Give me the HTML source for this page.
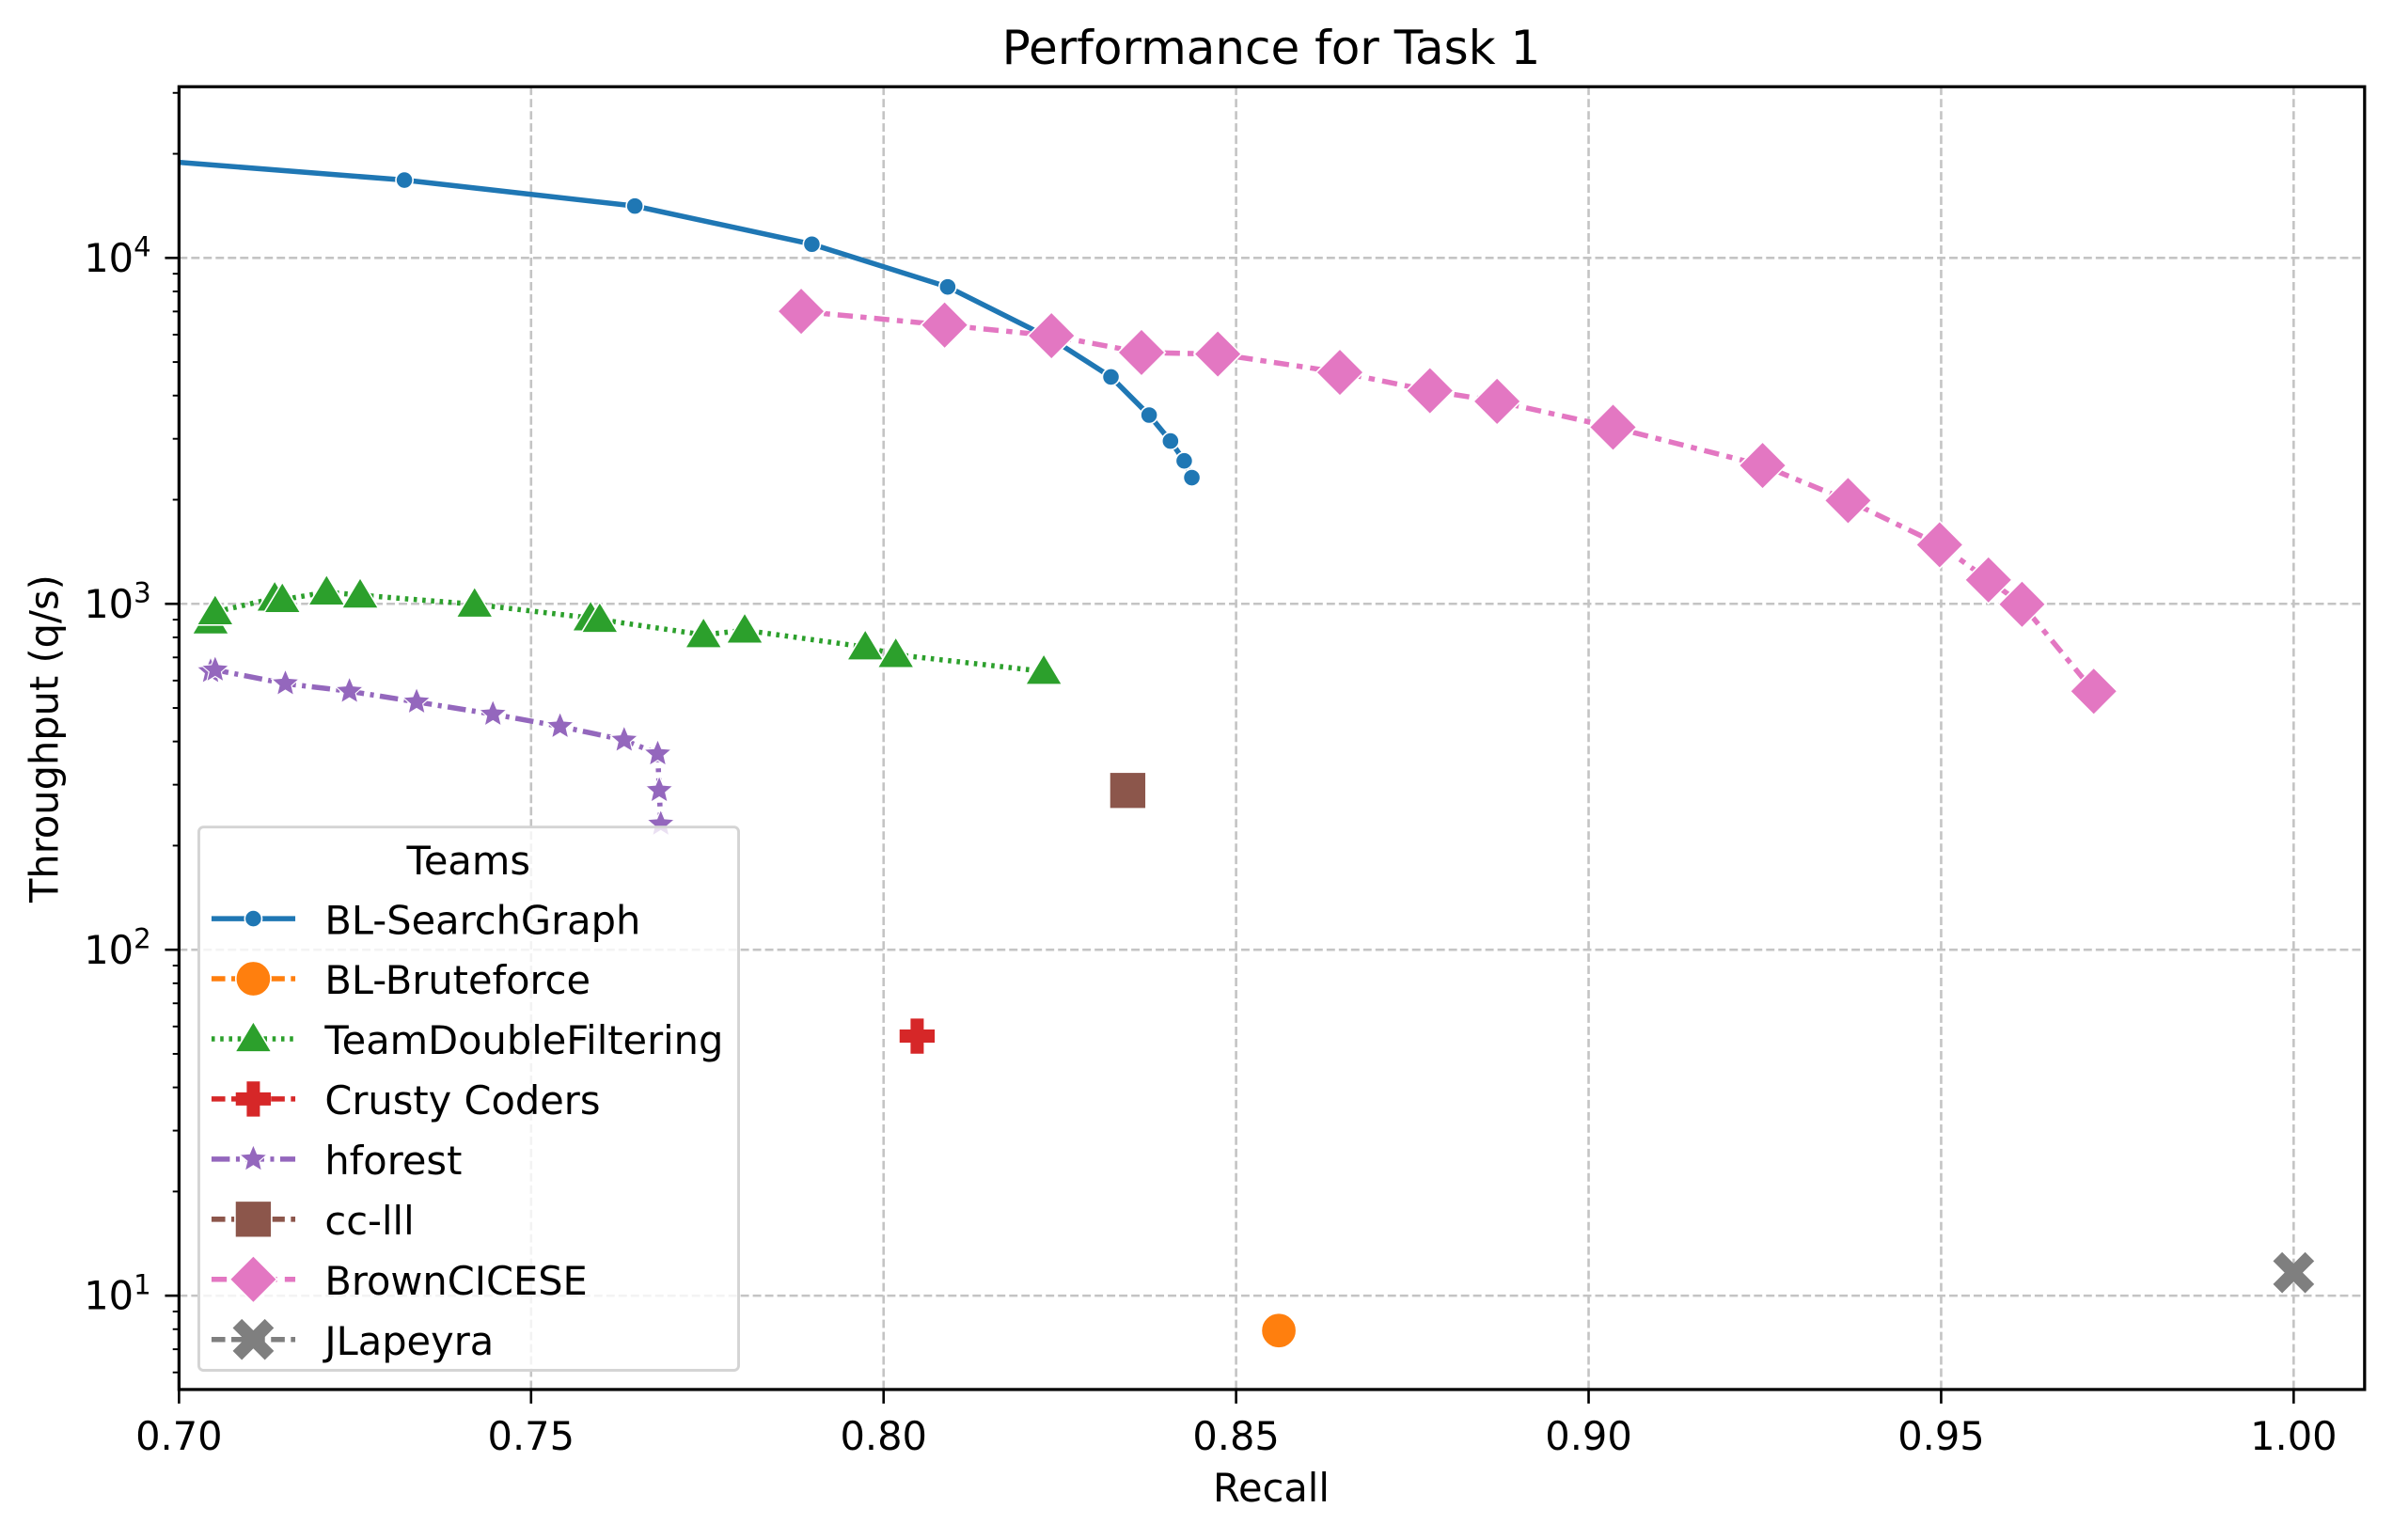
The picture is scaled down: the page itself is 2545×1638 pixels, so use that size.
<!DOCTYPE html>
<html><head><meta charset="utf-8"><style>html,body{margin:0;padding:0;background:#fff}svg{display:block}text{font-family:"DejaVu Sans","Liberation Sans",sans-serif}</style></head>
<body>
<svg id="s" width="2545" height="1638" viewBox="0 0 1568.1 1009.2" xmlns="http://www.w3.org/2000/svg">
<defs><clipPath id="c"><rect x="117.3" y="56.8" width="1432.2" height="853.8"/></clipPath></defs>
<rect width="1568.1" height="1009.2" fill="#fff"/>
<g id="grid" stroke="#c4c4c4" stroke-width="1.6" stroke-dasharray="5.5,2.5" fill="none">
<line x1="348" y1="56.8" x2="348" y2="910.6"/><line x1="579" y1="56.8" x2="579" y2="910.6"/><line x1="810" y1="56.8" x2="810" y2="910.6"/><line x1="1041" y1="56.8" x2="1041" y2="910.6"/><line x1="1272" y1="56.8" x2="1272" y2="910.6"/><line x1="1503" y1="56.8" x2="1503" y2="910.6"/>
<line x1="117.3" y1="169" x2="1549.5" y2="169"/><line x1="117.3" y1="395.7" x2="1549.5" y2="395.7"/><line x1="117.3" y1="622.4" x2="1549.5" y2="622.4"/><line x1="117.3" y1="849.1" x2="1549.5" y2="849.1"/>
</g>
<g id="series" clip-path="url(#c)" fill="none" stroke-width="3.4">
<polyline stroke="#1f77b4" points="100,105 265,118 416,135 532,160 621,188 689,222 728,247 753,272 767,289 776,302 781,313"/>
<polyline stroke="#2ca02c" stroke-dasharray="2.2,3.5" points="138,405 141,401 180,392 185,393 214,388 236,390 311,396 387,405 393,406 461,416 488,413 567,424 587,429 684,440"/>
<polyline stroke="#9467bd" stroke-dasharray="12,4,2.5,4" points="138,440 141,439 187,448 229,453 273,460 323,468 367,476 409,485 431,494 432,518 433,540"/>
<polyline stroke="#e377c2" stroke-dasharray="10,5,4,5" points="525,204 619,213 689,220 748,231 798,232 878,244 937,256 981,263 1057,280 1155,305 1211,328 1271,357 1303,380 1325,396 1372,453"/>
</g>
<g id="marks" clip-path="url(#c)"></g>
<g id="ticks" stroke="#000" stroke-width="1.6">
<line x1="117.3" y1="910.6" x2="117.3" y2="919.8"/><line x1="348" y1="910.6" x2="348" y2="919.8"/><line x1="579" y1="910.6" x2="579" y2="919.8"/><line x1="810" y1="910.6" x2="810" y2="919.8"/><line x1="1041" y1="910.6" x2="1041" y2="919.8"/><line x1="1272" y1="910.6" x2="1272" y2="919.8"/><line x1="1503" y1="910.6" x2="1503" y2="919.8"/>
<line x1="108.1" y1="169" x2="117.3" y2="169"/><line x1="108.1" y1="395.7" x2="117.3" y2="395.7"/><line x1="108.1" y1="622.4" x2="117.3" y2="622.4"/><line x1="108.1" y1="849.1" x2="117.3" y2="849.1"/>
</g>
<rect x="117.3" y="56.8" width="1432.2" height="853.8" fill="none" stroke="#000" stroke-width="2"/>
<g font-size="25.6" fill="#000" text-anchor="middle">
<text x="117.3" y="950">0.70</text><text x="348" y="950">0.75</text><text x="579" y="950">0.80</text><text x="810" y="950">0.85</text><text x="1041" y="950">0.90</text><text x="1272" y="950">0.95</text><text x="1503" y="950">1.00</text>
</g>
<g font-size="25.6" fill="#000" text-anchor="end">
<text x="99" y="178">10<tspan dy="-10" font-size="18">4</tspan></text>
<text x="99" y="404.7">10<tspan dy="-10" font-size="18">3</tspan></text>
<text x="99" y="631.4">10<tspan dy="-10" font-size="18">2</tspan></text>
<text x="99" y="858.1">10<tspan dy="-10" font-size="18">1</tspan></text>
</g>
<text x="833" y="984" font-size="25.6" text-anchor="middle">Recall</text>
<text x="0" y="0" font-size="25.6" text-anchor="middle" transform="translate(38,484) rotate(-90)">Throughput (q/s)</text>
<text x="833" y="42" font-size="30.8" text-anchor="middle">Performance for Task 1</text>
<rect x="130.3" y="542" width="353.7" height="356" rx="3" fill="#fff" fill-opacity="0.8" stroke="#d4d4d4" stroke-width="1.8"/>
<text x="307" y="573" font-size="25.6" text-anchor="middle">Teams</text>
<g id="leg"></g>
<g font-size="25.6">
<text x="212.8" y="612">BL-SearchGraph</text>
<text x="212.8" y="651.4">BL-Bruteforce</text>
<text x="212.8" y="690.8">TeamDoubleFiltering</text>
<text x="212.8" y="730.2">Crusty Coders</text>
<text x="212.8" y="769.6">hforest</text>
<text x="212.8" y="809">cc-lll</text>
<text x="212.8" y="848.4">BrownCICESE</text>
<text x="212.8" y="887.8">JLapeyra</text>
</g>
</svg>
<script>
var NS="http://www.w3.org/2000/svg";
function el(p,t,a){var e=document.createElementNS(NS,t);for(var k in a)e.setAttribute(k,a[k]);p.appendChild(e);return e;}
var tk=document.getElementById('ticks');
for(var d=0;d<=4;d++){var base=169+(4-d)*226.7;for(var k=2;k<=9;k++){var y=base-Math.log10(k)*226.7;if(y>57&&y<910)el(tk,'line',{x1:113.2,y1:y,x2:117.3,y2:y,'stroke-width':1.2});}}
var M=document.getElementById('marks');
function circ(g,x,y,r,c){el(g,'circle',{cx:x,cy:y,r:r,fill:c,stroke:'#fff','stroke-width':1});}
function tri(g,x,y,s,c){el(g,'polygon',{points:(x)+','+(y-s)+' '+(x-s*1.05)+','+(y+s*0.75)+' '+(x+s*1.05)+','+(y+s*0.75),fill:c,stroke:'#fff','stroke-width':1});}
function dia(g,x,y,s,c){el(g,'polygon',{points:x+','+(y-s)+' '+(x+s)+','+y+' '+x+','+(y+s)+' '+(x-s)+','+y,fill:c,stroke:'#fff','stroke-width':1});}
function star(g,x,y,s,c){var p=[];for(var i=0;i<10;i++){var r=i%2?s*0.45:s;var a=-Math.PI/2+i*Math.PI/5;p.push((x+r*Math.cos(a)).toFixed(2)+','+(y+r*Math.sin(a)).toFixed(2));}el(g,'polygon',{points:p.join(' '),fill:c,stroke:'#fff','stroke-width':0.7});}
function sq(g,x,y,s,c){el(g,'rect',{x:x-s,y:y-s,width:2*s,height:2*s,fill:c,stroke:'#fff','stroke-width':1});}
function plus(g,x,y,s,c){el(g,'path',{d:'M'+(x-s)+','+y+'H'+(x+s)+'M'+x+','+(y-s)+'V'+(y+s),stroke:c,'stroke-width':s*0.75,fill:'none'});}
function cross(g,x,y,s,c){el(g,'path',{d:'M'+(x-s)+','+(y-s)+'L'+(x+s)+','+(y+s)+'M'+(x+s)+','+(y-s)+'L'+(x-s)+','+(y+s),stroke:c,'stroke-width':s*0.8,fill:'none'});}
[[265,118],[416,135],[532,160],[621,188],[728,247],[753,272],[767,289],[776,302],[781,313]].forEach(function(p){circ(M,p[0],p[1],5.6,'#1f77b4');});
[[138,407],[141,401],[180,392],[185,393],[214,388],[236,390],[311,396],[387,405],[393,406],[461,416],[488,413],[567,424],[587,429],[684,440]].forEach(function(p){tri(M,p[0],p[1],11.5,'#2ca02c');});
[[138,440],[141,439],[187,448],[229,453],[273,460],[323,468],[367,476],[409,485],[431,494],[432,518],[433,540]].forEach(function(p){star(M,p[0],p[1],9.5,'#9467bd');});
[[525,204],[619,213],[689,220],[748,231],[798,232],[878,244],[937,256],[981,263],[1057,280],[1155,305],[1211,328],[1271,357],[1303,380],[1325,396],[1372,453]].forEach(function(p){dia(M,p[0],p[1],15.5,'#e377c2');});
circ(M,838,872,11.5,'#ff7f0e');plus(M,601,679,11.5,'#d62728');sq(M,739,518,12,'#8c564b');cross(M,1503,834,10.5,'#7f7f7f');
var L=document.getElementById('leg');
var ys=[602,641.4,680.8,720.2,759.6,799,838.4,877.8];
var cols=['#1f77b4','#ff7f0e','#2ca02c','#d62728','#9467bd','#8c564b','#e377c2','#7f7f7f'];
var dash=['',"9,4","2.2,3.5","9,4","12,4,2.5,4","9,4","10,5,4,5","9,4"];
for(var i=0;i<8;i++){var a={x1:138.6,y1:ys[i],x2:193.5,y2:ys[i],stroke:cols[i],'stroke-width':3.4};if(dash[i])a['stroke-dasharray']=dash[i];el(L,'line',a);}
circ(L,166,ys[0],5.6,cols[0]);circ(L,166,ys[1],11.5,cols[1]);tri(L,166,ys[2],11.5,cols[2]);plus(L,166,ys[3],11.5,cols[3]);star(L,166,ys[4],9.5,cols[4]);sq(L,166,ys[5],12,cols[5]);dia(L,166,ys[6],15.5,cols[6]);cross(L,166,ys[7],10.5,cols[7]);
</script>
</body></html>
